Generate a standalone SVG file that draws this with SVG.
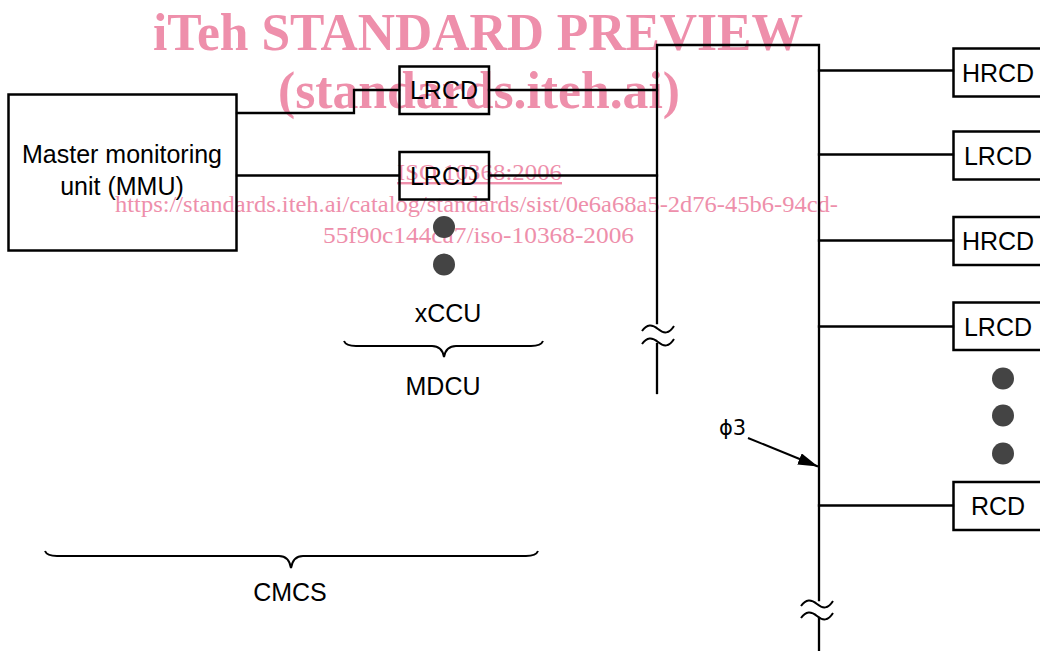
<svg xmlns="http://www.w3.org/2000/svg" width="1040" height="651" viewBox="0 0 1040 651">
<style>
  .ln{fill:none;stroke:#000;stroke-width:2.3;stroke-linecap:square}
  .bx{fill:none;stroke:#000;stroke-width:2.5}
  .t{font-family:"Liberation Sans",Arial,sans-serif;font-size:25px;fill:#000;text-anchor:middle}
  .wm{font-family:"Liberation Serif","Times New Roman",serif;fill:#ee8fab}
  .dot{fill:#444}
  .br{fill:none;stroke:#000;stroke-width:2}
</style>
<defs>
  <marker id="ah" markerUnits="userSpaceOnUse" markerWidth="22" markerHeight="12" refX="20" refY="6" orient="auto">
    <path d="M0,0 L20,6 L0,12 Z" fill="#000"/>
  </marker>
  <path id="tilde" d="M-16,2 C-11,-5 -6,-5 0,0 S11,5 16,-3" class="br"/>
</defs>
<g id="watermark">
  <text class="wm" x="153" y="50" font-size="52" font-weight="bold" textLength="650" lengthAdjust="spacingAndGlyphs">iTeh STANDARD PREVIEW</text>
  <text class="wm" x="278" y="108" font-size="52" font-weight="bold" textLength="402" lengthAdjust="spacingAndGlyphs">(standards.iteh.ai)</text>
  <text class="wm" x="397" y="180" font-size="24" textLength="165" lengthAdjust="spacingAndGlyphs" text-decoration="underline">ISO 10368:2006</text>
  <text class="wm" x="115" y="212" font-size="24" textLength="723" lengthAdjust="spacingAndGlyphs">https://standards.iteh.ai/catalog/standards/sist/0e6a68a5-2d76-45b6-94cd-</text>
  <text class="wm" x="323" y="243" font-size="24" textLength="311" lengthAdjust="spacingAndGlyphs">55f90c144ca7/iso-10368-2006</text>
</g>
<g id="connectors">
  <polyline class="ln" points="237,113 354,113 354,90 399,90"/>
  <line class="ln" x1="489" y1="90" x2="657" y2="90"/>
  <line class="ln" x1="237" y1="175.5" x2="399" y2="175.5"/>
  <line class="ln" x1="489" y1="175.5" x2="657" y2="175.5"/>
  <polyline class="ln" points="657,323 657,45 819,45 819,600"/>
  <line class="ln" x1="657" y1="344" x2="657" y2="393"/>
  <line class="ln" x1="819" y1="618" x2="819" y2="651"/>
  <line class="ln" x1="819" y1="70.5" x2="953" y2="70.5"/>
  <line class="ln" x1="819" y1="154.5" x2="953" y2="154.5"/>
  <line class="ln" x1="819" y1="240.5" x2="953" y2="240.5"/>
  <line class="ln" x1="819" y1="326.5" x2="953" y2="326.5"/>
  <line class="ln" x1="819" y1="505.5" x2="953" y2="505.5"/>
  <use href="#tilde" x="658" y="329"/>
  <use href="#tilde" x="658" y="342"/>
  <use href="#tilde" x="817" y="604"/>
  <use href="#tilde" x="817" y="616"/>
  <line x1="748" y1="438" x2="818" y2="466.5" stroke="#000" stroke-width="2" marker-end="url(#ah)"/>
</g>
<g id="mmu">
  <rect class="bx" x="8.5" y="94.5" width="228" height="156"/>
  <text class="t" x="122" y="163" font-size="26.5">Master monitoring</text>
  <text class="t" x="122" y="195" font-size="26.5">unit (MMU)</text>
</g>
<g id="lrcd-a">
  <rect class="bx" x="399.5" y="66.5" width="89.5" height="47.5"/>
  <text class="t" x="444" y="99">LRCD</text>
</g>
<g id="lrcd-b">
  <rect class="bx" x="399.5" y="152" width="89.5" height="47.5"/>
  <text class="t" x="444" y="185">LRCD</text>
</g>
<g id="xccu">
  <circle class="dot" cx="444" cy="227" r="11"/>
  <circle class="dot" cx="444" cy="264.5" r="11"/>
  <text class="t" x="448" y="322">xCCU</text>
</g>
<g id="mdcu">
  <path class="br" d="M344,341 Q346,346 356,346 L432,346 Q442,346 444,357 Q446,346 456,346 L531,346 Q541,346 543,341"/>
  <text class="t" x="443" y="395">MDCU</text>
</g>
<g id="cmcs">
  <path class="br" d="M45,551 Q47,556 57,556 L279,556 Q289,556 291,568 Q293,556 303,556 L526,556 Q536,556 538,551"/>
  <text class="t" x="290" y="601">CMCS</text>
</g>
<g id="hrcd-1">
  <rect class="bx" x="953.5" y="48.5" width="100" height="48"/>
  <text class="t" x="998" y="82">HRCD</text>
</g>
<g id="lrcd-1">
  <rect class="bx" x="953.5" y="131.5" width="100" height="48"/>
  <text class="t" x="998" y="165">LRCD</text>
</g>
<g id="hrcd-2">
  <rect class="bx" x="953.5" y="217" width="100" height="48"/>
  <text class="t" x="998" y="250">HRCD</text>
</g>
<g id="lrcd-2">
  <rect class="bx" x="953.5" y="302.5" width="100" height="47.5"/>
  <text class="t" x="998" y="336">LRCD</text>
</g>
<g id="more">
  <circle class="dot" cx="1003" cy="378.5" r="11"/>
  <circle class="dot" cx="1003" cy="415.5" r="11"/>
  <circle class="dot" cx="1003" cy="453.5" r="11"/>
</g>
<g id="rcd">
  <rect class="bx" x="953.5" y="482" width="100" height="48"/>
  <text class="t" x="998" y="515">RCD</text>
</g>
<g id="phi3">
  <text x="719" y="435" font-family="DejaVu Sans, sans-serif" font-size="21" fill="#000">ϕ3</text>
</g>
</svg>
